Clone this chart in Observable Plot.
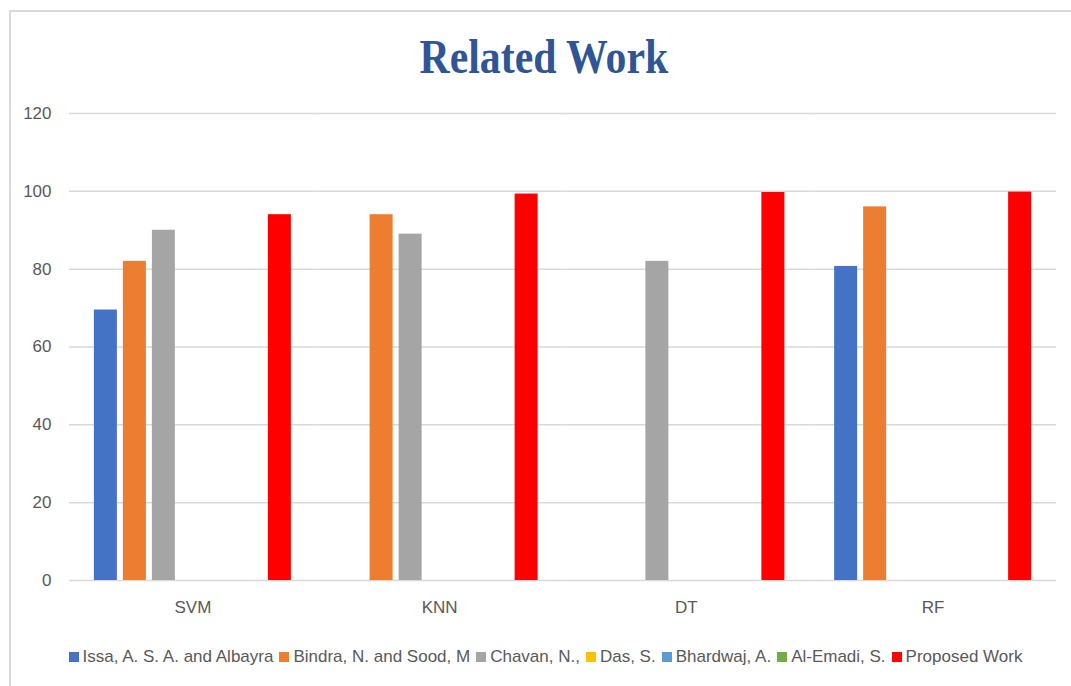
<!DOCTYPE html>
<html>
<head>
<meta charset="utf-8">
<script src="https://cdn.jsdelivr.net/npm/d3@7"></script>
<script src="https://cdn.jsdelivr.net/npm/@observablehq/plot@0.6"></script>
<style>
  html, body { margin: 0; padding: 0; background: #fff; width: 1071px; height: 686px; overflow: hidden; }
  #frame { position: absolute; left: 9px; top: 10px; width: 1100px; height: 700px; border-top: 2px solid #d9d9d9; border-left: 2px solid #d9d9d9; }
  #title { position: absolute; left: 0; top: 0; width: 1071px; height: 95px; text-align: center; padding-left: 16px; box-sizing: border-box; }
  #title span { display: inline-block; margin-top: 33px; font-family: "Liberation Serif", "Times New Roman", serif; font-weight: bold; font-size: 48px; line-height: 48px; color: #2F5597; transform: scaleX(0.87); }
  #chart { position: absolute; left: 0; top: 95px; }
  #legend { position: absolute; left: 0; top: 647px; width: 1071px; padding-left: 20px; box-sizing: border-box; display: flex; justify-content: center; gap: 6px; font-family: "Liberation Sans", Arial, sans-serif; font-size: 17px; line-height: 20px; color: #595959; }
  #legend .item { display: flex; align-items: center; gap: 4px; }
  #legend .sw { width: 10px; height: 10px; display: inline-block; }
</style>
</head>
<body>
<div id="frame"></div>
<div id="title"><span>Related Work</span></div>
<div id="chart"></div>
<div id="legend"></div>
<script>
const categories = ["SVM", "KNN", "DT", "RF"];
const series = ["Issa, A. S. A. and Albayra", "Bindra, N. and Sood, M", "Chavan, N.,", "Das, S.", "Bhardwaj, A.", "Al-Emadi, S.", "Proposed Work"];
const colors = ["#4472C4", "#ED7D31", "#A5A5A5", "#FFC000", "#5B9BD5", "#70AD47", "#FF0000"];
const issa     = [69.5, null, null, 80.7];
const bindra   = [82,   94,   null, 96];
const chavan   = [90,   89,   82,   null];
const das      = [null, null, null, null];
const bhardwaj = [null, null, null, null];
const alemadi  = [null, null, null, null];
const proposed = [94,   99.3, 99.7, 99.8];
const yTicks = [0, 20, 40, 60, 80, 100, 120];

const seriesValues = [issa, bindra, chavan, das, bhardwaj, alemadi, proposed];
const data = [];
seriesValues.forEach((vals, si) => {
  vals.forEach((v, ci) => {
    if (v != null) data.push({category: categories[ci], series: series[si], value: v});
  });
});

const font = '"Liberation Sans", Arial, sans-serif';

const chart = Plot.plot({
  width: 1071,
  height: 525,
  marginLeft: 69,
  marginRight: 15,
  marginTop: 18,
  marginBottom: 40,
  style: {fontFamily: font, fontSize: "17px", color: "#595959", background: "transparent"},
  fx: {domain: categories, padding: 0, round: false, label: null, tickSize: 0, tickPadding: 20, fontSize: 15},
  x: {domain: series, paddingInner: 0.207, paddingOuter: 0.858, round: false, axis: null},
  y: {domain: [0, 120], ticks: yTicks, label: null, tickSize: 0, tickPadding: 18, fontSize: 17},
  color: {domain: series, range: colors},
  marks: [
    Plot.gridY(yTicks, {stroke: "#d9d9d9", strokeOpacity: 1, strokeWidth: 1.5}),
    Plot.barY(data, {fx: "category", x: "series", y: "value", fill: "series"})
  ]
});
document.getElementById("chart").appendChild(chart);

const legend = document.getElementById("legend");
series.forEach((s, i) => {
  const item = document.createElement("span");
  item.className = "item";
  const sw = document.createElement("span");
  sw.className = "sw";
  sw.style.background = colors[i];
  const t = document.createElement("span");
  t.textContent = s;
  item.appendChild(sw);
  item.appendChild(t);
  legend.appendChild(item);
});
</script>
</body>
</html>
